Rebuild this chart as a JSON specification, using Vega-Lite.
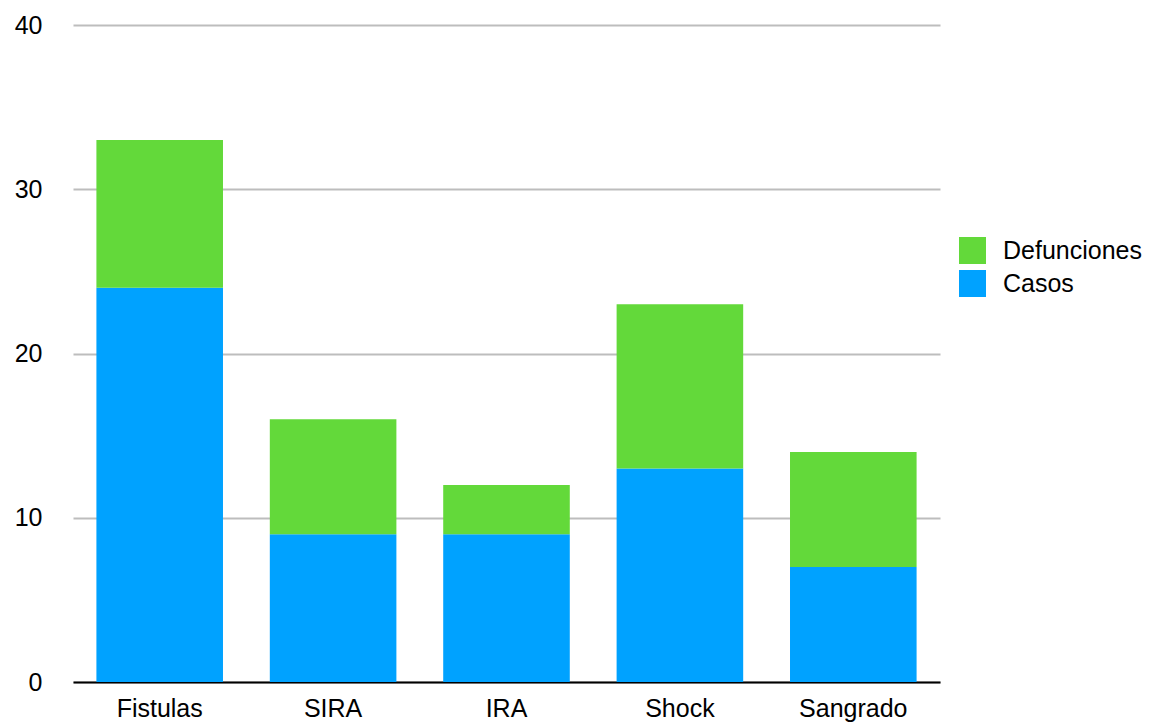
{
  "$schema": "https://vega.github.io/schema/vega-lite/v6.json",
  "width": 867,
  "height": 657,
  "autosize": {"type": "none"},
  "padding": {"left": 73, "top": 25, "right": 224, "bottom": 41},
  "background": "white",
  "config": {
    "view": {"stroke": null},
    "font": "Liberation Sans"
  },
  "data": {
    "values": [
      {"categoria": "Fistulas", "serie": "Casos", "valor": 24, "orden": 1},
      {"categoria": "Fistulas", "serie": "Defunciones", "valor": 9, "orden": 2},
      {"categoria": "SIRA", "serie": "Casos", "valor": 9, "orden": 1},
      {"categoria": "SIRA", "serie": "Defunciones", "valor": 7, "orden": 2},
      {"categoria": "IRA", "serie": "Casos", "valor": 9, "orden": 1},
      {"categoria": "IRA", "serie": "Defunciones", "valor": 3, "orden": 2},
      {"categoria": "Shock", "serie": "Casos", "valor": 13, "orden": 1},
      {"categoria": "Shock", "serie": "Defunciones", "valor": 10, "orden": 2},
      {"categoria": "Sangrado", "serie": "Casos", "valor": 7, "orden": 1},
      {"categoria": "Sangrado", "serie": "Defunciones", "valor": 7, "orden": 2}
    ]
  },
  "mark": {"type": "bar"},
  "encoding": {
    "x": {
      "field": "categoria",
      "type": "nominal",
      "sort": ["Fistulas", "SIRA", "IRA", "Shock", "Sangrado"],
      "scale": {"paddingInner": 0.27, "paddingOuter": 0.135},
      "axis": {
        "title": null,
        "labelAngle": 0,
        "labelFontSize": 25,
        "labelColor": "#000000",
        "labelPadding": 14,
        "ticks": false,
        "domainColor": "#000000",
        "domainWidth": 2,
        "grid": false
      }
    },
    "y": {
      "field": "valor",
      "type": "quantitative",
      "aggregate": "sum",
      "stack": "zero",
      "scale": {"domain": [0, 40], "nice": false},
      "axis": {
        "title": null,
        "values": [0, 10, 20, 30, 40],
        "labelFontSize": 25,
        "labelColor": "#000000",
        "labelPadding": 31,
        "ticks": false,
        "domain": false,
        "gridColor": "#BDBDBD",
        "gridWidth": 2
      }
    },
    "color": {
      "field": "serie",
      "type": "nominal",
      "scale": {"domain": ["Defunciones", "Casos"], "range": ["#63D93A", "#00A2FF"]},
      "legend": {
        "title": null,
        "orient": "none",
        "legendX": 886,
        "legendY": 212,
        "symbolType": "square",
        "symbolSize": 729,
        "symbolStrokeWidth": 0,
        "symbolOpacity": 1,
        "labelFontSize": 25,
        "labelColor": "#000000",
        "labelOffset": 17,
        "rowPadding": 6
      }
    },
    "order": {"field": "orden", "type": "quantitative", "aggregate": "min"}
  }
}
